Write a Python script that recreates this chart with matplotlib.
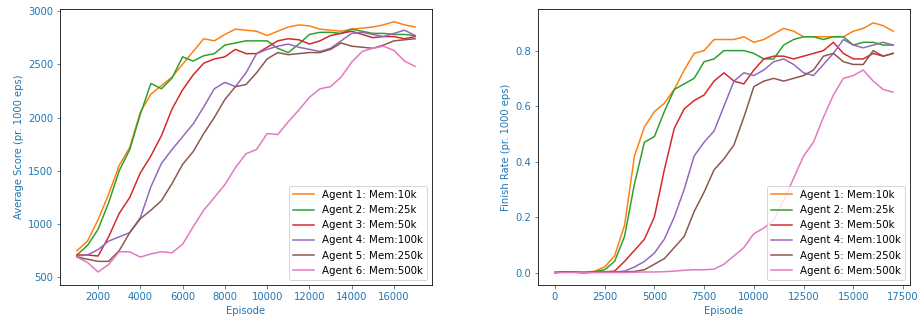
import matplotlib
matplotlib.use("Agg")
import matplotlib.pyplot as plt

# ---------------- data ----------------
labels = ["Agent 1: Mem:10k", "Agent 2: Mem:25k", "Agent 3: Mem:50k",
          "Agent 4: Mem:100k", "Agent 5: Mem:250k", "Agent 6: Mem:500k"]

# Left panel: average score, episodes 1000..17000 step 500
ep_score = list(range(1000, 17001, 500))
score_a1 = [750, 840, 1040, 1280, 1550, 1720, 2050, 2220, 2300, 2380, 2500, 2620, 2740,
            2720, 2780, 2830, 2820, 2810, 2770, 2810, 2850, 2870, 2860, 2830, 2820,
            2810, 2830, 2840, 2850, 2870, 2900, 2870, 2850]
score_a2 = [710, 800, 950, 1200, 1500, 1700, 2030, 2320, 2270, 2370, 2570, 2530, 2580,
            2600, 2680, 2700, 2720, 2720, 2720, 2650, 2610, 2690, 2780, 2800, 2800,
            2790, 2830, 2810, 2790, 2790, 2780, 2780, 2770]
score_a3 = [710, 710, 700, 880, 1100, 1250, 1480, 1640, 1830, 2080, 2260, 2400, 2510,
            2550, 2570, 2640, 2600, 2600, 2660, 2720, 2740, 2730, 2690, 2720, 2770,
            2790, 2810, 2780, 2750, 2760, 2760, 2740, 2760]
score_a4 = [700, 710, 760, 840, 880, 920, 1060, 1350, 1570, 1700, 1820, 1940, 2100,
            2270, 2330, 2290, 2420, 2600, 2640, 2670, 2690, 2660, 2640, 2620, 2650,
            2720, 2790, 2800, 2780, 2760, 2790, 2820, 2770]
score_a5 = [690, 670, 650, 650, 750, 920, 1050, 1130, 1220, 1380, 1560, 1680, 1850,
            2000, 2170, 2290, 2310, 2420, 2550, 2610, 2590, 2600, 2610, 2610, 2640,
            2700, 2670, 2660, 2650, 2680, 2720, 2730, 2740]
score_a6 = [690, 640, 550, 620, 740, 740, 690, 720, 740, 730, 810, 975, 1130,
            1250, 1370, 1530, 1660, 1700, 1850, 1840, 1960, 2070, 2190, 2270, 2290,
            2380, 2520, 2620, 2650, 2670, 2630, 2530, 2480]

# Right panel: finish rate, episodes 0..17000 step 500
ep_rate = list(range(0, 17001, 500))
rate_a1 = [0.0, 0.002, 0.001, 0.0, 0.005, 0.02, 0.06, 0.17, 0.42, 0.525, 0.58, 0.61,
           0.66, 0.73, 0.79, 0.80, 0.84, 0.84, 0.84, 0.85, 0.83, 0.84, 0.86, 0.88,
           0.87, 0.85, 0.85, 0.85, 0.85, 0.85, 0.87, 0.88, 0.90, 0.89, 0.87]
rate_a2 = [0.0, 0.002, 0.001, 0.0, 0.003, 0.01, 0.04, 0.13, 0.32, 0.47, 0.49, 0.58,
           0.66, 0.68, 0.70, 0.76, 0.77, 0.80, 0.80, 0.80, 0.79, 0.77, 0.77, 0.82,
           0.84, 0.85, 0.85, 0.84, 0.85, 0.85, 0.82, 0.83, 0.83, 0.82, 0.82]
rate_a3 = [0.0, 0.002, 0.001, 0.0, 0.002, 0.002, 0.005, 0.04, 0.08, 0.12, 0.20, 0.37,
           0.52, 0.59, 0.62, 0.64, 0.69, 0.72, 0.69, 0.68, 0.73, 0.77, 0.78, 0.78,
           0.77, 0.78, 0.79, 0.80, 0.83, 0.79, 0.77, 0.77, 0.79, 0.78, 0.79]
rate_a4 = [0.0, 0.001, 0.001, 0.0, 0.001, 0.001, 0.002, 0.005, 0.02, 0.04, 0.07, 0.12,
           0.20, 0.30, 0.42, 0.47, 0.51, 0.60, 0.69, 0.72, 0.71, 0.73, 0.76, 0.77,
           0.75, 0.72, 0.71, 0.75, 0.79, 0.84, 0.82, 0.81, 0.82, 0.83, 0.82]
rate_a5 = [0.0, 0.002, 0.001, 0.0, 0.001, 0.001, 0.001, 0.002, 0.004, 0.01, 0.03, 0.05,
           0.09, 0.13, 0.22, 0.29, 0.37, 0.41, 0.46, 0.56, 0.67, 0.69, 0.70, 0.69,
           0.70, 0.71, 0.73, 0.78, 0.79, 0.76, 0.75, 0.75, 0.80, 0.78, 0.79]
rate_a6 = [0.0, 0.0, 0.0, 0.0, 0.0, 0.0, 0.0, 0.0, 0.001, 0.002, 0.002, 0.003,
           0.005, 0.008, 0.01, 0.01, 0.012, 0.03, 0.06, 0.09, 0.14, 0.16, 0.19, 0.26,
           0.34, 0.42, 0.47, 0.56, 0.64, 0.70, 0.71, 0.73, 0.69, 0.66, 0.65]

score_series = [score_a1, score_a2, score_a3, score_a4, score_a5, score_a6]
rate_series = [rate_a1, rate_a2, rate_a3, rate_a4, rate_a5, rate_a6]

colors = ["#ff7f0e", "#2ca02c", "#d62728", "#9467bd", "#8c564b", "#e377c2"]
label_color = "#1f77b4"

# ---------------- figure ----------------
fig = plt.figure(figsize=(917 / 72, 320 / 72), dpi=72)
ax1 = fig.add_axes([60 / 917, 35 / 320, 372 / 917, 276 / 320])
ax2 = fig.add_axes([538 / 917, 35 / 320, 372 / 917, 276 / 320])

for s, c, lab in zip(score_series, colors, labels):
    ax1.plot(ep_score, s, color=c, lw=1.5, label=lab)
for s, c, lab in zip(rate_series, colors, labels):
    ax2.plot(ep_rate, s, color=c, lw=1.5, label=lab)

ax1.set_ylabel("Average Score (pr. 1000 eps)", color=label_color)
ax2.set_ylabel("Finish Rate (pr. 1000 eps)", color=label_color)
for ax in (ax1, ax2):
    ax.set_xlabel("Episode", color=label_color)
    ax.tick_params(axis="both", colors=label_color)
    ax.legend(loc="lower right", fontsize=10.3)

ax1.set_ylim(428, 3019)
ax1.set_yticks([500, 1000, 1500, 2000, 2500, 3000])
ax1.set_xticks(range(2000, 16001, 2000))
ax2.set_ylim(-0.045, 0.95)
ax2.set_xticks(range(0, 17501, 2500))

fig.savefig("out.png", dpi=72)
